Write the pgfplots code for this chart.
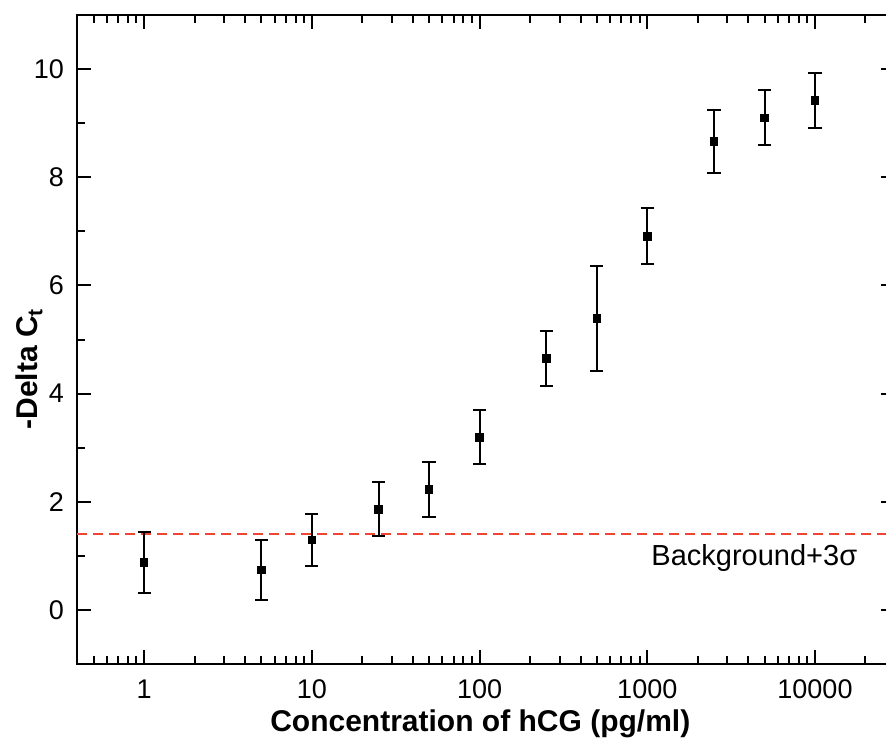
\documentclass[border=0pt]{standalone}
\usepackage{fontspec}
\setmainfont{Liberation Sans}
\usepackage{pgfplots}
\pgfplotsset{compat=1.18}
\usepackage{pgfplotstable}
\definecolor{bgred}{RGB}{238,70,50}
\pgfplotstableread{
x y e
1 0.88 0.565
5 0.74 0.56
10 1.30 0.48
25 1.86 0.50
50 2.23 0.51
100 3.19 0.50
250 4.65 0.505
500 5.39 0.965
1000 6.91 0.52
2500 8.66 0.59
5000 9.10 0.51
10000 9.42 0.505
}\datatable
\begin{document}
\begin{tikzpicture}
\clip (-38.5pt,-38.5pt) rectangle (404.5pt,332pt);
\begin{axis}[
  at={(0,0)}, anchor=south west,
  scale only axis, width=409pt, height=324.5pt,
  xmode=log, xmin=0.398, xmax=30000,
  ymin=-1, ymax=11,
  xtick={1,10,100,1000,10000},
  xticklabels={1,10,100,1000,10000},
  minor xtick={0.5,0.6,0.7,0.8,0.9,2,3,4,5,6,7,8,9,20,30,40,50,60,70,80,90,200,300,400,500,600,700,800,900,2000,3000,4000,5000,6000,7000,8000,9000,20000,30000},
  ytick={0,2,4,6,8,10},
  minor ytick={1,3,5,7,9},
  tick align=inside,
  major tick length=7pt, minor tick length=4pt,
  every tick/.style={black, line width=1pt},
  axis line style={line width=1.2pt},
  /pgf/number format/assume math mode=true,
  tick label style={font=\fontsize{13.5}{16}\selectfont},
  xticklabel style={yshift=-4.3pt},
  yticklabel style={xshift=-3pt},
  every axis x label/.style={at={(axis description cs:0.493,-0.104)}, anchor=base},
  every axis y label/.style={at={(axis description cs:-0.0477,0.455)}, anchor=base, rotate=90},
  label style={font=\fontsize{15}{18}\selectfont\bfseries},
  xlabel={Concentration of hCG (pg/ml)},
  ylabel={-Delta C\textsubscript{t}},
  clip=false,
]
\addplot[draw=bgred, color=bgred, no marks, line width=1pt, dash pattern=on 5pt off 3pt] coordinates {(0.398,1.41) (30000,1.41)};
\addplot[only marks, mark=square*, mark size=1.85pt, black,
  error bars/.cd, y dir=both, y explicit,
  error bar style={line width=1pt, black},
  error mark options={rotate=90, mark size=3.3pt, line width=1pt, black}]
  table[x=x, y=y, y error=e] {\datatable};
\node[anchor=base east, font=\fontsize{14.5}{17}\selectfont, inner sep=0pt] at (axis cs:17950,0.83) {Background+3σ};
\end{axis}
\end{tikzpicture}
\end{document}
